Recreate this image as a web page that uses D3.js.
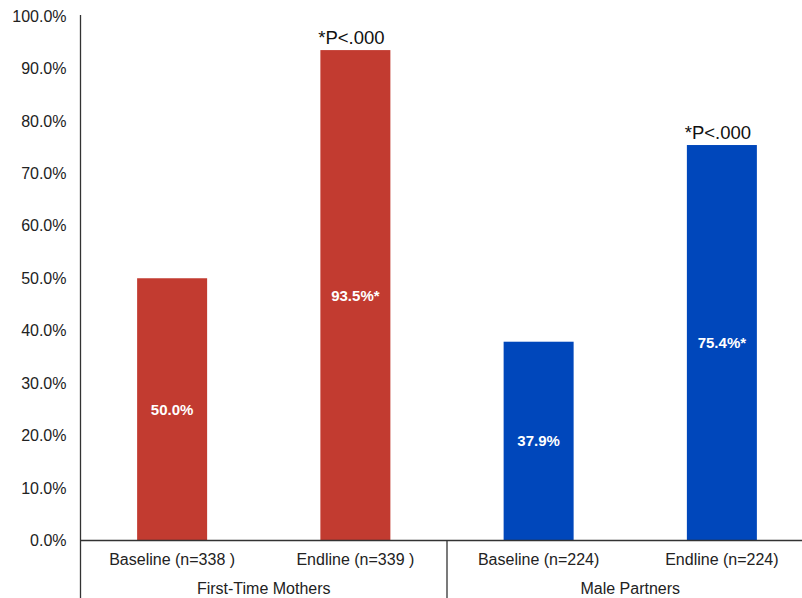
<!DOCTYPE html>
<html><head><meta charset="utf-8">
<script src="https://cdn.jsdelivr.net/npm/d3@7"></script>
<style>body{margin:0;background:#fff;}svg{display:block;font-family:"Liberation Sans",Arial,sans-serif;}</style>
</head><body><svg id="c" width="802" height="598"></svg>
<script>
const categories = ["Baseline (n=338 )","Endline (n=339 )","Baseline (n=224)","Endline (n=224)"];
const groups = ["First-Time Mothers","First-Time Mothers","Male Partners","Male Partners"];
const groupNames = ["First-Time Mothers","Male Partners"];
const values = [50.0, 93.5, 37.9, 75.4];
const barLabels = ["50.0%","93.5%*","37.9%","75.4%*"];
const annotations = ["","*P<.000","","*P<.000"];
const colors = ["#c23b30","#c23b30","#0047bb","#0047bb"];
const yTicks = [0,10,20,30,40,50,60,70,80,90,100];

const svg = d3.select("#c");
const x = d3.scaleBand().domain(d3.range(categories.length)).range([80.5, 813.5]).paddingInner(0).paddingOuter(0);
const y = d3.scaleLinear().domain([0,100]).range([540.5, 16]);
const bw = 70;

svg.selectAll("rect.bar").data(values).join("rect")
  .attr("class","bar")
  .attr("x",(d,i)=>x(i)+x.bandwidth()/2-bw/2)
  .attr("width",bw)
  .attr("y",d=>y(d))
  .attr("height",d=>y(0)-y(d))
  .attr("fill",(d,i)=>colors[i]);

svg.selectAll("text.vl").data(values).join("text")
  .attr("class","vl")
  .attr("x",(d,i)=>x(i)+x.bandwidth()/2)
  .attr("y",d=>(y(d)+y(0))/2)
  .attr("dy","0.35em")
  .attr("text-anchor","middle")
  .attr("fill","#fff").attr("font-weight","bold").attr("font-size","15px")
  .text((d,i)=>barLabels[i]);

svg.selectAll("text.an").data(values).join("text")
  .attr("class","an")
  .attr("x",(d,i)=>x(i)+x.bandwidth()/2 - 4)
  .attr("y",d=>y(d)-6)
  .attr("text-anchor","middle")
  .attr("fill","#111").attr("font-size","18.5px")
  .text((d,i)=>annotations[i]);

const yAxis = d3.axisLeft(y).tickValues(yTicks).tickSize(0).tickPadding(14).tickFormat(d=>d.toFixed(1)+"%");
const ga = svg.append("g").attr("transform","translate(80.5,0)").call(yAxis);
ga.select(".domain").remove();
ga.selectAll("text").attr("font-size","16px").attr("fill","#222").attr("font-family","Liberation Sans, Arial, sans-serif");
svg.append("line").attr("x1",80.5).attr("x2",80.5).attr("y1",15).attr("y2",598).attr("stroke","#333").attr("stroke-width",1.3);

svg.append("line").attr("x1",80).attr("x2",802).attr("y1",y(0)).attr("y2",y(0)).attr("stroke","#333").attr("stroke-width",1.3);
svg.selectAll("text.cat").data(categories).join("text")
  .attr("class","cat")
  .attr("x",(d,i)=>x(i)+x.bandwidth()/2)
  .attr("y",565)
  .attr("text-anchor","middle").attr("font-size","16px").attr("fill","#222")
  .text(d=>d);
const sep = x(2);
svg.append("line").attr("x1",sep).attr("x2",sep).attr("y1",y(0)).attr("y2",598).attr("stroke","#333").attr("stroke-width",1.3);
groupNames.forEach((g,gi)=>{
  const idx = groups.map((v,i)=>v===g?i:-1).filter(i=>i>=0);
  const cx = (x(idx[0]) + x(idx[idx.length-1]) + x.bandwidth())/2;
  svg.append("text").attr("x",cx).attr("y",594).attr("text-anchor","middle").attr("font-size","16px").attr("fill","#222").text(g);
});
</script></body></html>
